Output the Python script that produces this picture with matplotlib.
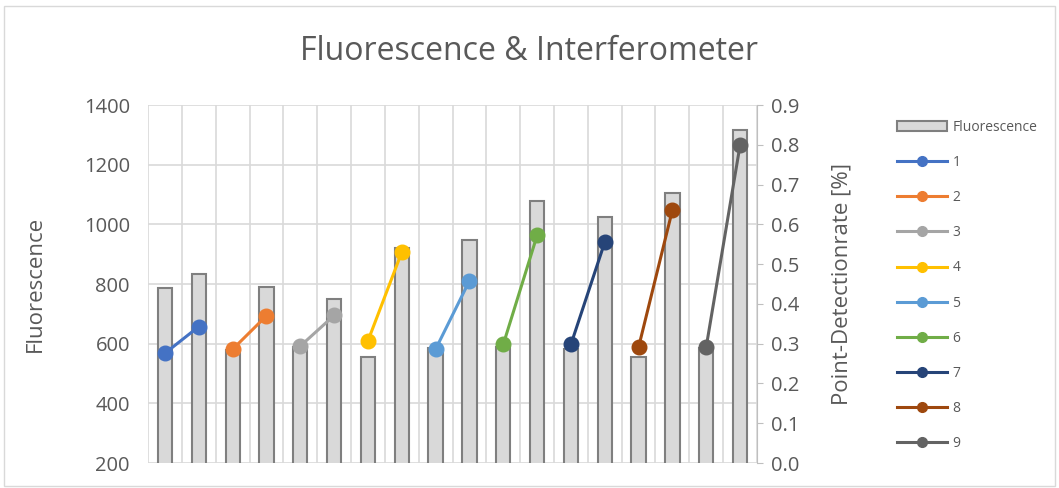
import matplotlib.pyplot as plt
import numpy as np
from matplotlib.patches import Patch, Rectangle
from matplotlib.lines import Line2D

plt.rcParams['font.family'] = ['Open Sans', 'DejaVu Sans']

# Fluorescence per measurement (18 bars)
fluorescence = [786, 835, 578, 789, 590, 750, 557, 922, 585, 947,
                588, 1078, 583, 1025, 554, 1104, 585, 1316]

# Point-detection rate, two points per sample
series_names = ['1', '2', '3', '4', '5', '6', '7', '8', '9']
rate_start = [0.276, 0.286, 0.294, 0.307, 0.286, 0.298, 0.298, 0.291, 0.292]
rate_end = [0.343, 0.370, 0.371, 0.530, 0.458, 0.572, 0.555, 0.636, 0.799]
series_colors = ['#4472C4', '#ED7D31', '#A5A5A5', '#FFC000', '#5B9BD5',
                 '#70AD47', '#264478', '#9E480E', '#636363']

text_color = '#595959'
grid_color = '#D9D9D9'

fig = plt.figure(figsize=(10.59, 4.88), dpi=100)
fig.patches.append(Rectangle((0.004, 0.004), 0.992, 0.984, transform=fig.transFigure,
                             fill=False, edgecolor='#D9D9D9', linewidth=1))

ax = fig.add_axes([0.1398, 0.0512, 0.575, 0.7336])
x = np.arange(len(fluorescence))
ax.bar(x, fluorescence, width=0.42, color='#D9D9D9', edgecolor='#7F7F7F',
       linewidth=1.5, zorder=2)
ax.set_ylim(200, 1400)
ax.set_yticks(range(200, 1401, 200))
ax.set_xlim(-0.5, len(fluorescence) - 0.5)
ax.set_xticks([])
ax.set_xticks(np.arange(-0.5, len(fluorescence)), minor=True)
ax.tick_params(axis='x', which='minor', length=0)
ax.grid(True, which='minor', axis='x', color=grid_color, linewidth=1.2, zorder=0)
ax.grid(True, which='major', axis='y', color=grid_color, linewidth=1.2, zorder=0)
ax.set_axisbelow(True)
for s in ax.spines.values():
    s.set_visible(False)
ax.tick_params(axis='y', length=0, labelsize=14.5, labelcolor=text_color, pad=13)
ax.set_ylabel('Fluorescence', fontsize=16, color=text_color, labelpad=27)

ax2 = ax.twinx()
for i, name in enumerate(series_names):
    ax2.plot([2 * i, 2 * i + 1], [rate_start[i], rate_end[i]], color=series_colors[i],
             linewidth=2.2, marker='o', markersize=10.5, zorder=3)
ax2.set_ylim(0, 0.9)
ax2.set_yticks(np.arange(0, 0.91, 0.1))
ax2.set_yticklabels([f'{v:.1f}' for v in np.arange(0, 0.91, 0.1)])
for s in ax2.spines.values():
    s.set_visible(False)
ax2.spines['right'].set_visible(True)
ax2.spines['right'].set_color('#BFBFBF')
ax2.tick_params(axis='y', length=4, color='#BFBFBF', labelsize=14.5, labelcolor=text_color, pad=6)
ax2.set_ylabel('Point-Detectionrate [%]', fontsize=16, color=text_color, labelpad=23)

fig.text(0.5, 0.895, 'Fluorescence & Interferometer', ha='center', va='center',
         fontsize=23, color=text_color)

handles = [Patch(facecolor='#D9D9D9', edgecolor='#7F7F7F', linewidth=1.5)]
for c in series_colors:
    handles.append(Line2D([], [], color=c, linewidth=2.2, marker='o', markersize=7))
fig.legend(handles, ['Fluorescence'] + series_names, loc='upper left',
           bbox_to_anchor=(0.835, 0.78), frameon=False, fontsize=10,
           labelcolor=text_color, handlelength=3.6, labelspacing=1.45,
           handletextpad=0.4)

fig.savefig('out.png', dpi=100)
